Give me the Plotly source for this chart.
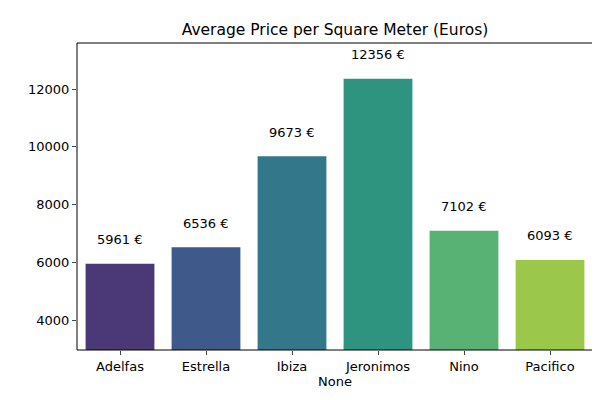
import plotly.graph_objects as go

categories = ["Adelfas", "Estrella", "Ibiza", "Jeronimos", "Nino", "Pacifico"]
prices = [5961, 6536, 9673, 12356, 7102, 6093]
colors = ["#4a3877", "#3f5a8a", "#33788a", "#2e9480", "#57b274", "#9bc84b"]

fig = go.Figure(go.Bar(x=categories, y=prices, marker_color=colors, width=0.8,
                       marker_line_width=0))
for c, v in zip(categories, prices):
    fig.add_annotation(x=c, y=v, text=f"{v} €", showarrow=False, yshift=24,
                       font=dict(size=13, color="black"))
fig.add_shape(type="rect", xref="paper", yref="paper", x0=0, y0=0, x1=1, y1=1,
              line=dict(color="black", width=1))
fig.update_layout(
    width=600, height=400, plot_bgcolor="white", paper_bgcolor="white",
    margin=dict(l=69, r=15, t=35, b=58, autoexpand=False),
    font=dict(family="DejaVu Sans", size=13, color="black"),
    title=dict(text="Average Price per Square Meter (Euros)", x=0.5, xanchor="center",
               xref="paper", y=1 - 22/400, yanchor="middle", font=dict(size=15.5),
               automargin=False),
    showlegend=False, bargap=0.2,
)
fig.update_xaxes(title=dict(text="None", standoff=4, font=dict(size=13)),
                 automargin=False, ticks="outside", ticklen=4, range=[-0.5, 5.5])
fig.update_yaxes(range=[2980, 13592], automargin=False,
                 ticks="outside", ticklen=4, showgrid=False, dtick=2000,
                 tickformat="d", zeroline=False)
fig.write_html("out.html")
